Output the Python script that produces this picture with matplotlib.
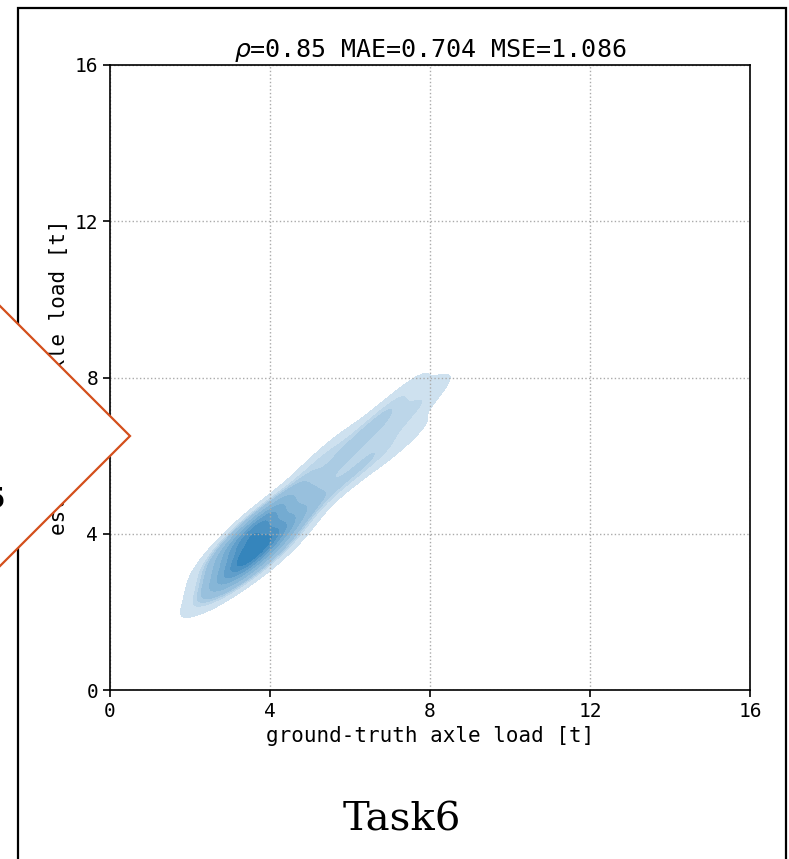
import matplotlib
matplotlib.use("Agg")
import matplotlib.pyplot as plt
import seaborn as sns
from matplotlib.colors import to_rgb, ListedColormap, BoundaryNorm
from matplotlib.patches import Polygon, Rectangle

# ground-truth vs estimated axle load samples [t]
gt = [2.8, 3.0, 3.1, 3.1, 3.2, 3.2, 3.3, 3.3, 3.4, 3.4, 3.4, 3.4, 3.4,
      3.4, 3.5, 3.5, 3.5, 3.5, 3.6, 3.6, 3.6, 3.6, 3.7, 3.7, 3.7, 3.7,
      3.7, 3.7, 3.8, 3.8, 3.9, 3.9, 4.0, 4.0, 4.1, 4.2, 4.3, 4.3, 4.5,
      4.8, 5.0, 5.2, 5.4, 5.6, 5.8, 6.0, 6.2, 6.4, 6.6, 6.8, 7.0, 7.2,
      7.4, 7.6, 7.8]
est = [2.8, 3.2, 3.5, 3.8, 4.1, 3.1, 3.4, 3.7, 4.0, 3.1, 3.4, 3.6, 3.9,
       4.2, 3.3, 3.5, 3.8, 4.1, 3.2, 3.5, 3.7, 4.0, 4.3, 3.4, 3.6, 3.9,
       4.2, 3.2, 3.6, 3.8, 4.2, 4.4, 3.5, 3.8, 4.1, 4.6, 3.5, 3.8, 4.2,
       4.6, 5.6, 5.2, 6.1, 5.1, 6.0, 6.0, 5.7, 6.7, 5.9, 6.9, 6.6, 7.5,
       6.4, 7.4, 7.3]

title = r"$\rho$=0.85 MAE=0.704 MSE=1.086"
ticks = [0, 4, 8, 12, 16]

W, H = 789, 859
fig = plt.figure(figsize=(W / 100, H / 100), dpi=100)
plt.rcParams['font.family'] = 'DejaVu Sans Mono'

# light-to-dark shades of the default blue
base = to_rgb('#1f77b4')
shades = [0.22, 0.30, 0.38, 0.46, 0.54, 0.62, 0.71, 0.80, 0.90]
band_colors = [tuple(1 - t * (1 - c) for c in base) for t in shades]

ax = fig.add_axes([110 / W, 1 - 690 / H, 640 / W, 625 / H])
sns.kdeplot(x=gt, y=est, fill=True, bw_adjust=0.95, ax=ax)
cs = ax.collections[-1]
n_bands = len(cs.levels) - 1
cs.set_cmap(ListedColormap(band_colors[:n_bands]))
cs.set_norm(BoundaryNorm(cs.levels, n_bands))
cs.set_zorder(1)

ax.set_xlim(0, 16)
ax.set_ylim(0, 16)
ax.set_xticks(ticks)
ax.set_yticks(ticks)
ax.tick_params(labelsize=14, length=5, width=1.2)
ax.set_axisbelow('line')
ax.grid(True, linestyle=':', color='#aaaaaa', linewidth=1)
for s in ax.spines.values():
    s.set_linewidth(1.2)
ax.set_xlabel("ground-truth axle load [t]", fontsize=15)
ax.set_ylabel("estimate of axle load [t]", fontsize=15)
ax.set_title(title, fontsize=18, family='DejaVu Sans Mono')


def fc(px, py):
    return (px / W, 1 - py / H)


# outer panel frame
frame = Rectangle(fc(18, 900), 768 / W, 892 / H, transform=fig.transFigure,
                  fill=False, edgecolor='black', linewidth=1.6, clip_on=False)
fig.add_artist(frame)

# neighbouring diamond marker
h = 300
diamond = Polygon([fc(130, 436), fc(130 - h, 436 - h), fc(130 - 2 * h, 436),
                   fc(130 - h, 436 + h)], closed=True, transform=fig.transFigure,
                  facecolor='white', edgecolor='#d44f1c', linewidth=1.6,
                  clip_on=False, zorder=5)
fig.add_artist(diamond)
fig.text(6 / W, 1 - 500 / H, "Task5", ha='right', va='center', fontsize=20,
         fontweight='bold', family='DejaVu Sans', zorder=6)

fig.text(402 / W, 1 - 820 / H, "Task6", ha='center', va='center', fontsize=29,
         family='DejaVu Serif')

fig.savefig("out.png", dpi=100)
